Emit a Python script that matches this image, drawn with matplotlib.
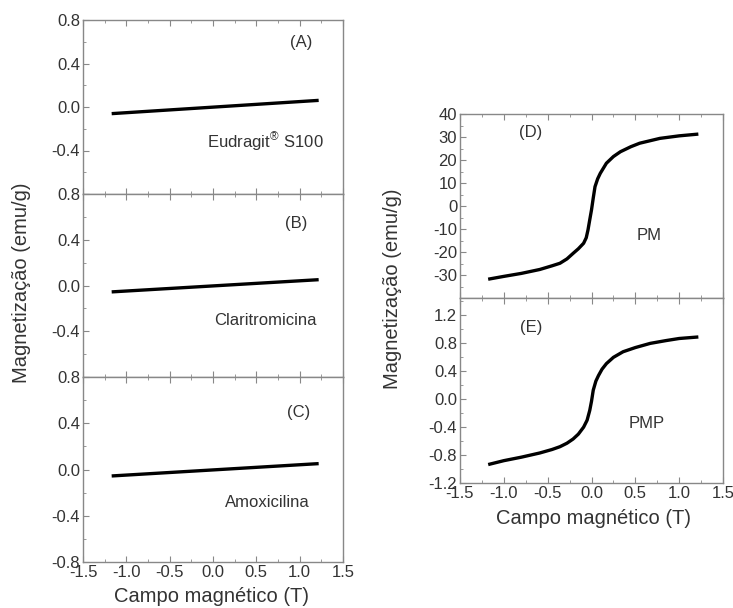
import matplotlib
matplotlib.use("Agg")
import matplotlib.pyplot as plt
from matplotlib.ticker import MultipleLocator, FormatStrFormatter

plt.rcParams['font.family'] = ['Liberation Sans', 'DejaVu Sans']
plt.rcParams['axes.unicode_minus'] = False
plt.rcParams['mathtext.fontset'] = 'custom'
plt.rcParams['mathtext.rm'] = 'Liberation Sans'

# data
field_lin = [-1.15, 1.2]
eudragit = [-0.06, 0.06]
claritro = [-0.055, 0.05]
amoxi = [-0.055, 0.05]

field_pm = [-1.16, -1.0, -0.8, -0.59, -0.45, -0.36, -0.28, -0.21, -0.15, -0.09, -0.06,
            -0.04, -0.02, 0.0, 0.02, 0.04, 0.07, 0.1, 0.17, 0.25, 0.33, 0.45, 0.55,
            0.78, 1.0, 1.2]
mag_pm = [-31.7, -30.6, -29.3, -27.6, -26.0, -24.9, -23.0, -20.6, -18.6, -16.2, -13.8,
          -10.4, -6.0, -1.7, 3.5, 8.4, 11.8, 14.2, 18.6, 21.5, 23.6, 25.8, 27.3,
          29.4, 30.5, 31.2]

field_pmp = [-1.16, -1.0, -0.8, -0.59, -0.45, -0.36, -0.28, -0.21, -0.15, -0.09, -0.05,
             -0.02, 0.0, 0.02, 0.05, 0.08, 0.12, 0.17, 0.25, 0.36, 0.5, 0.67, 0.85,
             1.0, 1.2]
mag_pmp = [-0.93, -0.88, -0.83, -0.77, -0.72, -0.68, -0.63, -0.57, -0.50, -0.40, -0.30,
           -0.16, -0.03, 0.13, 0.26, 0.34, 0.43, 0.51, 0.60, 0.68, 0.74, 0.80, 0.84,
           0.87, 0.89]

left_ticks = [-0.8, -0.4, 0.0, 0.4, 0.8]
pm_ticks = [-30, -20, -10, 0, 10, 20, 30, 40]
pmp_ticks = [-1.2, -0.8, -0.4, 0.0, 0.4, 0.8, 1.2]

W, H = 733, 608
INK = '#333333'


def add_ax(fig, x0, y0, x1, y1):
    return fig.add_axes([x0 / W, 1 - y1 / H, (x1 - x0) / W, (y1 - y0) / H])


def style(ax, ylim, yticks, minor, fmt, show_x, hide_first=False):
    ax.set_xlim(-1.5, 1.5)
    ax.set_ylim(*ylim)
    ax.xaxis.set_major_locator(MultipleLocator(0.5))
    ax.xaxis.set_minor_locator(MultipleLocator(0.25))
    labels = [fmt % t for t in yticks]
    if hide_first:
        labels[0] = ''
    ax.set_yticks(yticks, labels)
    ax.yaxis.set_minor_locator(MultipleLocator(minor))
    ax.xaxis.set_major_formatter(FormatStrFormatter('%.1f'))
    ax.tick_params(which='both', direction='in', top=True, right=False,
                   labelsize=12, colors=INK, pad=2)
    ax.tick_params(which='both', color='#888888')
    ax.tick_params(which='major', length=4)
    ax.tick_params(which='minor', length=2)
    for s in ax.spines.values():
        s.set_color('#888888')
        s.set_linewidth(1.0)
    if not show_x:
        ax.tick_params(axis='x', labelbottom=False)


fig = plt.figure(figsize=(W / 100, H / 100), dpi=100)

lw = 2.4
txt = dict(fontsize=12, color=INK, ha='center', va='center')

axA = add_ax(fig, 83, 20, 343, 194)
axA.plot(field_lin, eudragit, color='black', lw=lw)
style(axA, (-0.8, 0.8), left_ticks, 0.2, '%.1f', False, hide_first=True)
axA.text(0.84, 0.87, '(A)', transform=axA.transAxes, **txt)
axA.text(0.70, 0.30, r'$\mathregular{Eudragit^{®}\ S100}$', transform=axA.transAxes, **txt)

axB = add_ax(fig, 83, 194, 343, 377)
axB.plot(field_lin, claritro, color='black', lw=lw)
style(axB, (-0.8, 0.8), left_ticks, 0.2, '%.1f', False, hide_first=True)
axB.text(0.82, 0.84, '(B)', transform=axB.transAxes, **txt)
axB.text(0.70, 0.31, 'Claritromicina', transform=axB.transAxes, **txt)

axC = add_ax(fig, 83, 377, 343, 562)
axC.plot(field_lin, amoxi, color='black', lw=lw)
style(axC, (-0.8, 0.8), left_ticks, 0.2, '%.1f', True)
axC.text(0.83, 0.81, '(C)', transform=axC.transAxes, **txt)
axC.text(0.71, 0.32, 'Amoxicilina', transform=axC.transAxes, **txt)

axD = add_ax(fig, 460, 114, 723, 298)
axD.plot(field_pm, mag_pm, color='black', lw=lw)
style(axD, (-40, 40), pm_ticks, 5, '%d', False)
axD.text(0.27, 0.90, '(D)', transform=axD.transAxes, **txt)
axD.text(0.72, 0.34, 'PM', transform=axD.transAxes, **txt)

axE = add_ax(fig, 460, 298, 723, 483)
axE.plot(field_pmp, mag_pmp, color='black', lw=lw)
style(axE, (-1.2, 1.45), pmp_ticks, 0.2, '%.1f', True)
axE.text(0.27, 0.84, '(E)', transform=axE.transAxes, **txt)
axE.text(0.71, 0.32, 'PMP', transform=axE.transAxes, **txt)

lab = dict(fontsize=14.5, color=INK, ha='center', va='center')
fig.text(211 / W, 1 - 597 / H, 'Campo magnético (T)', **lab)
fig.text(594 / W, 1 - 519 / H, 'Campo magnético (T)', **lab)
fig.text(22 / W, 1 - 283 / H, 'Magnetização (emu/g)', rotation=90, **lab)
fig.text(393 / W, 1 - 289 / H, 'Magnetização (emu/g)', rotation=90, **lab)

fig.savefig('out.png', dpi=100)
